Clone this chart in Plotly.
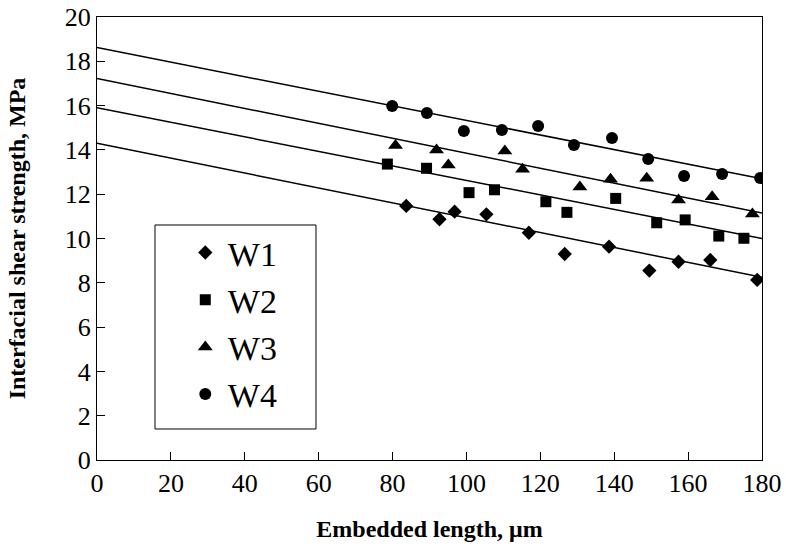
import plotly.graph_objects as go

# Data
w1_x = [83.7, 92.7, 96.8, 105.4, 116.9, 126.6, 138.6, 149.5, 157.4, 166.0, 178.7]
w1_y = [11.47, 10.87, 11.21, 11.09, 10.26, 9.30, 9.63, 8.55, 8.95, 9.03, 8.13]
w2_x = [78.6, 89.2, 100.7, 107.6, 121.5, 127.2, 140.4, 151.5, 159.2, 168.3, 175.1]
w2_y = [13.36, 13.17, 12.07, 12.20, 11.66, 11.18, 11.81, 10.71, 10.84, 10.11, 10.01]
w3_x = [80.8, 91.9, 95.1, 110.4, 115.2, 130.7, 139.0, 148.8, 157.4, 166.5, 177.4]
w3_y = [14.20, 14.00, 13.32, 13.95, 13.13, 12.32, 12.67, 12.72, 11.74, 11.89, 11.11]
w4_x = [79.9, 89.3, 99.3, 109.6, 119.4, 129.1, 139.4, 149.2, 158.9, 169.2, 179.5]
w4_y = [15.98, 15.67, 14.85, 14.90, 15.08, 14.22, 14.54, 13.59, 12.82, 12.91, 12.73]

fit_x = [0, 180]
fit_w1 = [14.30, 8.25]
fit_w2 = [15.90, 10.00]
fit_w3 = [17.22, 11.15]
fit_w4 = [18.62, 12.70]

names = ["W1", "W2", "W3", "W4"]
symbols = ["diamond", "square", "triangle-up", "circle"]
sizes = [11, 11, 13, 12]

fig = go.Figure()
for fy in [fit_w1, fit_w2, fit_w3, fit_w4]:
    fig.add_trace(go.Scatter(x=fit_x, y=fy, mode="lines",
                             line=dict(color="black", width=1.5),
                             showlegend=False, hoverinfo="skip"))
for nm, xs, ys, sym, sz in zip(names, [w1_x, w2_x, w3_x, w4_x],
                               [w1_y, w2_y, w3_y, w4_y], symbols, sizes):
    fig.add_trace(go.Scatter(x=xs, y=ys, mode="markers", name=nm,
                             marker=dict(symbol=sym, size=sz, color="black")))

serif = "Liberation Serif"
axis_common = dict(showgrid=False, zeroline=False, showline=True, linecolor="black",
                   linewidth=1, mirror=True, ticks="inside", ticklen=8,
                   tickcolor="black", automargin=False,
                   tickfont=dict(family=serif, size=26, color="black"))
fig.update_layout(
    width=786, height=553,
    margin=dict(l=97, r=24, t=17, b=93),
    paper_bgcolor="white", plot_bgcolor="white",
    xaxis=dict(range=[0, 180], dtick=20, tick0=0,
               title=dict(text="<b>Embedded length, μm</b>",
                          font=dict(family=serif, size=24, color="black"), standoff=22),
               **axis_common),
    yaxis=dict(range=[0, 20], dtick=2, tick0=0,
               title=dict(text="<b>Interfacial shear strength, MPa</b>",
                          font=dict(family=serif, size=24, color="black"), standoff=32),
               **axis_common),
    legend=dict(x=0.129, y=0.533, xanchor="left", yanchor="top",
                borderwidth=0, bgcolor="rgba(0,0,0,0)",
                font=dict(family=serif, size=34, color="black"),
                itemwidth=35),
    shapes=[dict(type="rect", xref="paper", yref="paper",
                 x0=0.0872, x1=0.3293, y0=0.070, y1=0.5305,
                 line=dict(color="black", width=1))],
    showlegend=True,
)
fig.write_html("out.html", config={"displayModeBar": False},
               post_script="document.body.style.margin='0px';")
